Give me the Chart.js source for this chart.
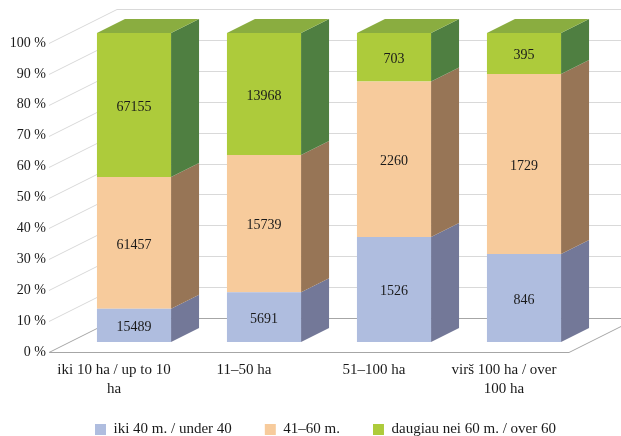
<!DOCTYPE html>
<html>
<head>
<meta charset="utf-8">
<script src="https://cdn.jsdelivr.net/npm/chart.js@4.4.1/dist/chart.umd.min.js"></script>
<style>
html, body { margin: 0; padding: 0; background: #fff; }
#wrap { width: 621px; height: 436px; }
</style>
</head>
<body>
<div id="wrap"><canvas id="farmChart"></canvas></div>
<script>
// farm size groups and farmer age groups (counts, drawn as 100 % stacks)
var categories = [['iki 10 ha / up to 10', 'ha'], '11–50 ha', '51–100 ha', ['virš 100 ha / over', '100 ha']];
var under40 = [15489, 5691, 1526, 846];
var from41to60 = [61457, 15739, 2260, 1729];
var over60 = [67155, 13968, 703, 395];
var seriesNames = ['iki 40 m. / under 40', '41–60 m.', 'daugiau nei 60 m. / over 60'];

var frontColors = ['#AFBDDF', '#F7CB9C', '#ADCB3B'];
var sideColors = ['#737898', '#977556', '#4F7F41'];
var topColors = ['#8C98B5', '#C8A47E', '#8AAD40'];

var FONT = 'Liberation Serif, Times New Roman, serif';

// depth settings for the fake 3d look
var wallDx = 68, wallDy = 34;   // back wall offset
var barDx = 20, barDy = 10;     // bar front plane offset
var depthDx = 28, depthDy = 14; // bar depth

var allSeries = [under40, from41to60, over60];
var totals = categories.map(function (c, i) {
    return under40[i] + from41to60[i] + over60[i];
});
function toShare(arr) {
    return arr.map(function (v, i) { return v / totals[i] * 100; });
}

var threeD = {
    id: 'threeD',
    afterLayout: function (chart) {
        // legend sits lower and a bit right, like the original
        var lg = chart.legend;
        lg.top = 389;
        lg.bottom = 440;
        lg.left += 41;
        lg.right += 41;
    },
    beforeDatasetsDraw: function (chart) {
        var ctx = chart.ctx;
        var a = chart.chartArea;
        var y = chart.scales.y;
        ctx.save();
        // back wall grid + left wall diagonals
        ctx.lineWidth = 1;
        y.ticks.forEach(function (t) {
            var py = Math.round(y.getPixelForValue(t.value)) + 0.5;
            ctx.strokeStyle = t.value === 0 ? '#a6a6a6' : '#d9d9d9';
            ctx.beginPath();
            ctx.moveTo(a.left, py);
            ctx.lineTo(a.left + wallDx, py - wallDy);
            ctx.lineTo(a.right + wallDx, py - wallDy);
            ctx.stroke();
        });
        // floor edges
        var by = Math.round(a.bottom) + 0.5;
        ctx.strokeStyle = '#a6a6a6';
        ctx.beginPath();
        ctx.moveTo(a.left, by);
        ctx.lineTo(a.right, by);
        ctx.lineTo(a.right + wallDx, by - wallDy);
        ctx.stroke();

        // bars get shifted back into the box
        ctx.translate(barDx, -barDy);
        chart.data.datasets.forEach(function (ds, di) {
            var meta = chart.getDatasetMeta(di);
            meta.data.forEach(function (bar) {
                var p = bar.getProps(['x', 'y', 'base', 'width']);
                var right = p.x + p.width / 2;
                var left = p.x - p.width / 2;
                ctx.fillStyle = sideColors[di];
                ctx.beginPath();
                ctx.moveTo(right, p.y);
                ctx.lineTo(right + depthDx, p.y - depthDy);
                ctx.lineTo(right + depthDx, p.base - depthDy);
                ctx.lineTo(right, p.base);
                ctx.closePath();
                ctx.fill();
                if (di === chart.data.datasets.length - 1) {
                    ctx.fillStyle = topColors[di];
                    ctx.beginPath();
                    ctx.moveTo(left, p.y);
                    ctx.lineTo(right, p.y);
                    ctx.lineTo(right + depthDx, p.y - depthDy);
                    ctx.lineTo(left + depthDx, p.y - depthDy);
                    ctx.closePath();
                    ctx.fill();
                }
            });
        });
    },
    afterDatasetsDraw: function (chart) {
        var ctx = chart.ctx;
        ctx.font = '14px ' + FONT;
        ctx.fillStyle = '#1a1a1a';
        ctx.textAlign = 'center';
        ctx.textBaseline = 'middle';
        chart.data.datasets.forEach(function (ds, di) {
            var meta = chart.getDatasetMeta(di);
            meta.data.forEach(function (bar, i) {
                var p = bar.getProps(['x', 'y', 'base']);
                ctx.fillText(String(allSeries[di][i]), p.x, (p.y + p.base) / 2 + 2);
            });
        });
        ctx.restore();
    }
};

new Chart(document.getElementById('farmChart'), {
    type: 'bar',
    data: {
        labels: categories,
        datasets: allSeries.map(function (s, i) {
            return {
                label: seriesNames[i],
                data: toShare(s),
                backgroundColor: frontColors[i],
                borderWidth: 0,
                clip: false
            };
        })
    },
    options: {
        responsive: true,
        maintainAspectRatio: false,
        animation: false,
        layout: { padding: { top: 43, right: 52, left: 0, bottom: 0 } },
        categoryPercentage: 1,
        barPercentage: 0.57,
        scales: {
            x: {
                stacked: true,
                grid: { display: false },
                border: { display: false },
                afterFit: function (scale) { scale.height = 54; },
                ticks: { color: '#1a1a1a', font: { family: FONT, size: 15, lineHeight: 1.3 }, padding: 0, maxRotation: 0, autoSkip: false }
            },
            y: {
                stacked: true,
                min: 0,
                max: 100,
                grid: { display: false, drawTicks: false },
                border: { display: false },
                afterFit: function (scale) { scale.width = 49; },
                ticks: {
                    stepSize: 10,
                    padding: 3,
                    color: '#1a1a1a',
                    font: { family: FONT, size: 14 },
                    callback: function (v) { return v + ' %'; }
                }
            }
        },
        plugins: {
            tooltip: { enabled: false },
            legend: {
                position: 'bottom',
                maxHeight: 30,
                labels: {
                    boxWidth: 11,
                    boxHeight: 11,
                    padding: 33,
                    color: '#1a1a1a',
                    font: { family: FONT, size: 15 }
                }
            }
        }
    },
    plugins: [threeD]
});
</script>
</body>
</html>
